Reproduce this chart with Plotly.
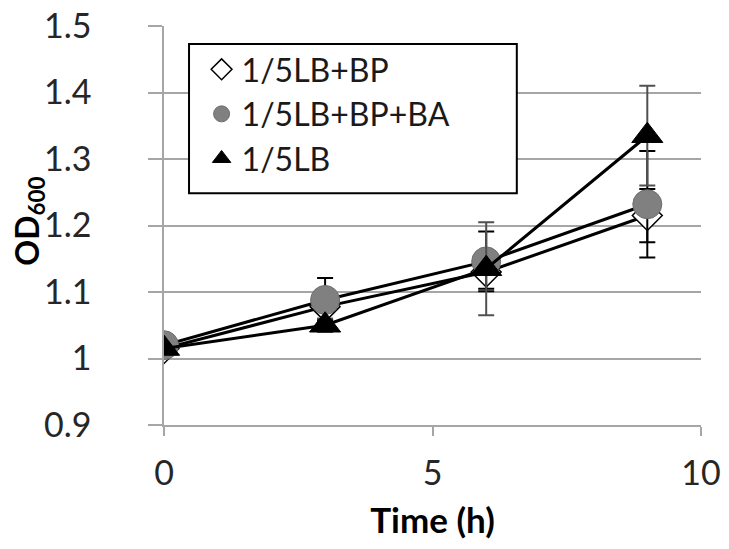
import plotly.graph_objects as go

# ---- data ----
time_h = [0, 3, 6, 9]
series_names = ["1/5LB+BP", "1/5LB+BP+BA", "1/5LB"]
od_bp = [1.015, 1.078, 1.13, 1.215]
err_bp = [0.005, 0.02, 0.025, 0.04]
od_bp_ba = [1.02, 1.088, 1.146, 1.232]
err_bp_ba = [0.005, 0.033, 0.045, 0.08]
od_lb = [1.015, 1.05, 1.135, 1.335]
err_lb = [0.005, 0.01, 0.07, 0.075]
x_tick_vals = [0, 5, 10]
y_tick_vals = [0.9, 1.0, 1.1, 1.2, 1.3, 1.4, 1.5]
y_tick_text = ["0.9", "1", "1.1", "1.2", "1.3", "1.4", "1.5"]
x_title = "<b>Time (h)</b>"
y_title = "<b>OD<sub>600</sub></b>"

FONT = "Lato"
GRID = "#a6a6a6"

styles = [
    dict(symbol="diamond", size=23, color="white", line=dict(color="black", width=1.5)),
    dict(symbol="circle", size=29, color="#808080", line=dict(color="#6e6e6e", width=1)),
    dict(symbol="triangle-up", size=27, color="black", line=dict(color="black", width=1)),
]
err_colors = ["black", "black", "#505050"]
values = [od_bp, od_bp_ba, od_lb]
errors = [err_bp, err_bp_ba, err_lb]

fig = go.Figure()
for name, y, e, st, ec in zip(series_names, values, errors, styles, err_colors):
    fig.add_trace(go.Scatter(
        x=time_h, y=y, mode="lines+markers", name=name, showlegend=False,
        line=dict(color="black", width=3),
        marker=st,
        error_y=dict(type="data", array=e, visible=True, color=ec, thickness=2, width=8),
    ))
# legend entries (markers only, like the reference legend)
for i, (name, st) in enumerate(zip(series_names, styles)):
    fig.add_trace(go.Scatter(
        x=[None], y=[None], mode="markers", name=name, legendgroup=f"g{i}",
        marker=st, showlegend=True,
    ))

fig.update_layout(
    width=729, height=549,
    margin=dict(l=164, r=28, t=26, b=124),
    paper_bgcolor="white", plot_bgcolor="white",
    font=dict(family=FONT, color="#262626"),
    showlegend=True,
    legend=dict(
        x=0.07, y=0.960, xanchor="left", yanchor="top",
        bgcolor="rgba(0,0,0,0)", borderwidth=0,
        font=dict(family=FONT, size=32, color="#1a1a1a"),
        tracegroupgap=0,
    ),
    shapes=[dict(type="rect", xref="paper", yref="paper",
                 x0=0.0466, x1=0.657, y0=0.581, y1=0.955,
                 fillcolor="white", line=dict(color="black", width=2), layer="above")],
    annotations=[dict(text=y_title, xref="paper", yref="paper", x=-0.253, y=0.51,
                      xanchor="center", yanchor="middle", textangle=-90, showarrow=False,
                      font=dict(family=FONT, size=32, color="black"))],
)
fig.update_xaxes(
    range=[0, 10], tickvals=x_tick_vals, showgrid=False, zeroline=False, automargin=False,
    showline=True, linecolor=GRID, linewidth=1.5,
    ticks="outside", ticklen=9, tickcolor=GRID, tickwidth=1.5,
    tickfont=dict(family=FONT, size=34, color="#262626"), ticklabelstandoff=8,
    title=dict(text=x_title, font=dict(family=FONT, size=35, color="black"), standoff=18),
)
fig.update_yaxes(
    range=[0.9, 1.5], tickvals=y_tick_vals, ticktext=y_tick_text, automargin=False,
    showgrid=True, gridcolor=GRID, gridwidth=1.5, zeroline=False,
    showline=True, linecolor=GRID, linewidth=1.5,
    ticks="outside", ticklen=14, tickcolor=GRID, tickwidth=1.5,
    tickfont=dict(family=FONT, size=34, color="#262626"), ticklabelstandoff=50,
)
fig.write_html("out.html")
